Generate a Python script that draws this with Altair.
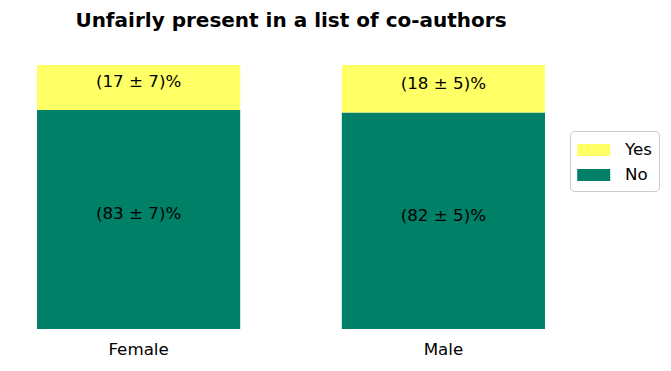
import altair as alt
import pandas as pd

groups = ["Female", "Male"]
answers = ["No", "Yes"]
no_pct = [83, 82]
yes_pct = [17, 18]
no_err = [7, 5]
yes_err = [7, 5]
title = "Unfairly present in a list of co-authors"

rows = []
for i, g in enumerate(groups):
    start = 0
    for ans, vals, errs in (("No", no_pct, no_err), ("Yes", yes_pct, yes_err)):
        v = vals[i]
        rows.append({
            "group": g, "answer": ans, "start": start, "end": start + v,
            "mid": start + v / 2, "label": f"({v} \u00b1 {errs[i]})%",
        })
        start += v
df = pd.DataFrame(rows)

FS = 16.7
x = alt.X("group:N", sort=groups, title=None,
          scale=alt.Scale(paddingInner=1/3, paddingOuter=0),
          axis=alt.Axis(labelAngle=0, ticks=False, domain=False, labelFontSize=FS,
                        labelFont="DejaVu Sans", labelColor="black", labelPadding=12))
yscale = alt.Scale(domain=[0, 100], nice=False)

bars = alt.Chart(df).mark_bar().encode(
    x=x,
    y=alt.Y("start:Q", scale=yscale, axis=None),
    y2="end:Q",
    color=alt.Color("answer:N", sort=["Yes", "No"],
                    scale=alt.Scale(domain=["Yes", "No"], range=["#ffff66", "#008066"]),
                    legend=alt.Legend(title=None, orient="none", legendX=533, legendY=66,
                                      symbolType="M-1,-0.5H1.8V0.5H-1Z", symbolSize=555,
                                      symbolStrokeWidth=0, labelFontSize=FS, labelFont="DejaVu Sans",
                                      labelColor="black", labelOffset=24, rowPadding=4, padding=7,
                                      strokeColor="#cccccc", fillColor="white", cornerRadius=4)),
)

texts = alt.Chart(df).mark_text(fontSize=FS, font="DejaVu Sans", color="black", dy=-5).encode(
    x=alt.X("group:N", sort=groups),
    y=alt.Y("mid:Q", scale=yscale),
    text="label:N",
)

chart = alt.layer(bars, texts).properties(
    width=508, height=264,
    title=alt.TitleParams(title, fontSize=20, font="DejaVu Sans", fontWeight="bold",
                          anchor="middle", offset=34, color="black"),
    autosize=alt.AutoSizeParams(type="none"),
    padding={"left": 29, "top": 57, "right": 118, "bottom": 34},
).configure_view(stroke=None)

chart.save("out.html", embed_options={"renderer": "svg", "actions": False})
